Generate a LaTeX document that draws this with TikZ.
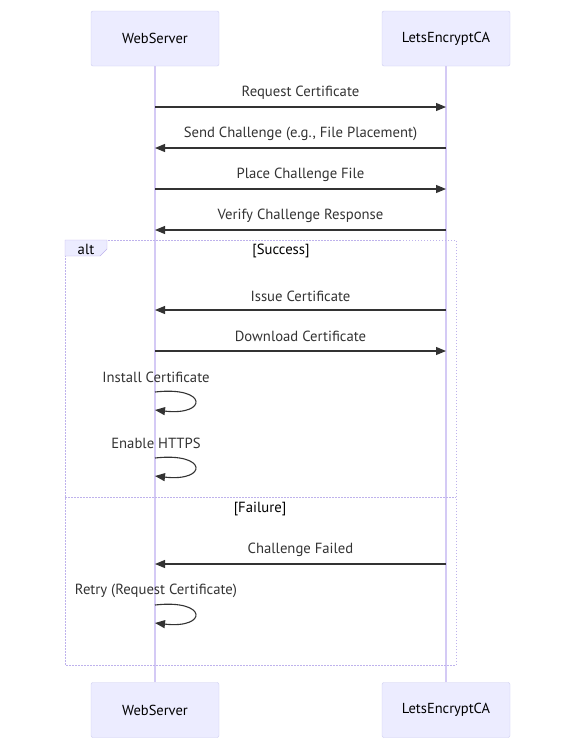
\documentclass[tikz,border=0pt]{standalone}
\usepackage{fontspec}
\setmainfont{PT Sans}
\usetikzlibrary{arrows.meta}

\definecolor{actorfill}{RGB}{236,236,255}
\definecolor{actorline}{RGB}{204,204,240}
\definecolor{lifeline}{RGB}{212,202,245}
\definecolor{altline}{RGB}{190,178,236}
\definecolor{msgcolor}{RGB}{51,51,51}

\tikzset{
  actorbox/.style={draw=actorline,fill=actorfill,rounded corners=2pt,minimum width=128pt,minimum height=55pt,inner sep=0pt,font=\fontsize{14.5}{16}\selectfont},
  msgtext/.style={inner sep=0.75pt,text=msgcolor,font=\fontsize{14.7}{16}\selectfont},
  msgline/.style={draw=msgcolor,line width=1.1pt,-{Triangle[length=10pt,width=8pt]}},
}

\begin{document}
\begin{tikzpicture}[x=1pt,y=-1pt]
\useasboundingbox (0,0) rectangle (588,750);

%Shape: Rectangle [id:actors top]
\node [actorbox] (wsTop) at (155,38.5) {WebServer};
\node [actorbox] (caTop) at (446,38.5) {LetsEncryptCA};
%Shape: Rectangle [id:actors bottom]
\node [actorbox] (wsBot) at (155,710) {WebServer};
\node [actorbox] (caBot) at (446,710) {LetsEncryptCA};

%Straight Lines [id:lifelines]
\draw [lifeline,line width=1.1pt] (wsTop.south) -- (wsBot.north) ;
\draw [lifeline,line width=1.1pt] (caTop.south) -- (caBot.north) ;

%Shape: Rectangle [id:alt frame]
\draw [altline,line width=1pt,dash pattern={on 1.5pt off 1.5pt}] (65,240) rectangle (456,665) ;
\draw [altline,line width=1pt,dash pattern={on 1.5pt off 1.5pt}] (65,497) -- (456,497) ;
\draw [draw=altline,fill=actorfill] (65,240) -- (107,240) -- (107,249) -- (100,256) -- (65,256) -- cycle ;
% Text Node
\node [msgtext,text=black] (altLbl) at (86,249) {alt};
% Text Node
\node [msgtext,text=black] (okLbl) at (281,251) {[Success]};
% Text Node
\node [msgtext,text=black] (failLbl) at (260,509) {[Failure]};

%Coordinates on the lifelines
\coordinate (ws1) at (155,107); \coordinate (ca1) at (446,107);
\coordinate (ws2) at (155,148); \coordinate (ca2) at (446,148);
\coordinate (ws3) at (155,189); \coordinate (ca3) at (446,189);
\coordinate (ws4) at (155,230); \coordinate (ca4) at (446,230);
\coordinate (ws5) at (155,310); \coordinate (ca5) at (446,310);
\coordinate (ws6) at (155,351); \coordinate (ca6) at (446,351);
\coordinate (ws9) at (155,564); \coordinate (ca9) at (446,564);

%Straight Lines [id:messages]
\draw [msgline] (ws1) -- (ca1) ;
\draw [msgline] (ca2) -- (ws2) ;
\draw [msgline] (ws3) -- (ca3) ;
\draw [msgline] (ca4) -- (ws4) ;
\draw [msgline] (ca5) -- (ws5) ;
\draw [msgline] (ws6) -- (ca6) ;
\draw [msgline] (ca9) -- (ws9) ;

%Curve Lines [id:self messages]
\draw [msgline] (155,392) .. controls (208,386) and (208,416) .. (155,410) ;
\draw [msgline] (155,458) .. controls (208,452) and (208,482) .. (155,476) ;
\draw [msgline] (155,605) .. controls (208,599) and (208,629) .. (155,623) ;

% Text Node
\node [msgtext] (m1) at (300.5,93) {Request Certificate};
% Text Node
\node [msgtext] (m2) at (300.5,134) {Send Challenge (e.g., File Placement)};
% Text Node
\node [msgtext] (m3) at (300.5,175) {Place Challenge File};
% Text Node
\node [msgtext] (m4) at (300.5,216) {Verify Challenge Response};
% Text Node
\node [msgtext] (m5) at (300.5,296) {Issue Certificate};
% Text Node
\node [msgtext] (m6) at (300.5,336.5) {Download Certificate};
% Text Node
\node [msgtext] (m7) at (156,377.5) {Install Certificate};
% Text Node
\node [msgtext] (m8) at (156,443.5) {Enable HTTPS};
% Text Node
\node [msgtext] (m9) at (300.5,549.5) {Challenge Failed};
% Text Node
\node [msgtext] (m10) at (156,590.5) {Retry (Request Certificate)};
\end{tikzpicture}
\end{document}
